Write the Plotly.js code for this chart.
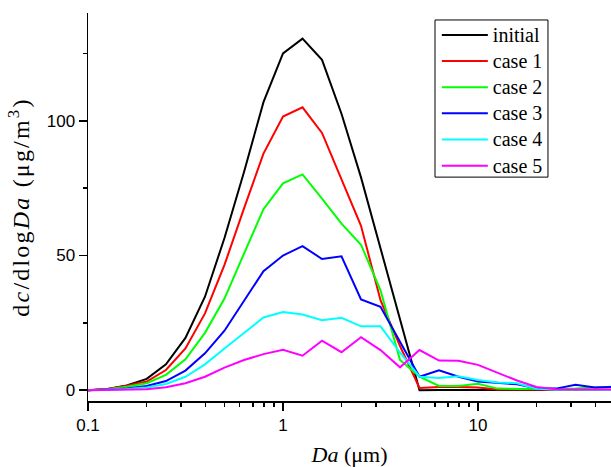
<!DOCTYPE html>
<html>
<head>
<meta charset="utf-8">
<script src="https://cdn.plot.ly/plotly-3.0.1.min.js"></script>
<style>
html,body{margin:0;padding:0;background:#fff;}
#chart{width:611px;height:467px;}
#chart .legendtext{font-size:20px !important;}
#chart .ytitle{letter-spacing:2.2px;}
</style>
</head>
<body>
<div id="chart"></div>
<script>
const diameters = [0.1, 0.126, 0.158, 0.2, 0.251, 0.316, 0.398, 0.501, 0.631, 0.794, 1, 1.259, 1.585, 1.995, 2.512, 3.162, 3.981, 5.012, 6.31, 7.943, 10, 12.59, 15.85, 19.95, 25.12, 31.62, 39.81, 50.12];
const initial = [0, 0.5, 1.8, 4.2, 9.6, 19.4, 34.7, 56.5, 81, 106.9, 125, 130.5, 122.6, 102.6, 79, 53, 26, 0, 0.1, 0.1, 0.1, 0.1, 0.1, 0.1, 0.1, 0.1, 0.1, 0.1];
const case1 = [0, 0.5, 1.7, 3.2, 7.5, 15.5, 28.5, 46.5, 67.5, 87.8, 101.6, 105, 95.5, 78.2, 61, 33.4, 16.4, 0.8, 1.2, 1.2, 1.0, 0.3, 0.2, 0.2, 0.2, 0.2, 0.2, 0.2];
const case2 = [0, 0.4, 1.3, 2.6, 5.7, 11.5, 21.3, 34, 50.7, 67.2, 76.8, 80.1, 71.1, 61.8, 54, 37.1, 11.2, 5.0, 1.6, 1.6, 2.4, 0.6, 0.5, 0.5, 0.5, 0.6, 1.0, 1.3];
const case3 = [0, 0.2, 0.6, 1.6, 3.4, 7.3, 13.7, 22.1, 33.4, 44.2, 50, 53.5, 48.7, 49.7, 33.7, 31, 18, 5.0, 7.4, 5.0, 3.2, 2.7, 2.2, 0.7, 0.6, 2.0, 1.0, 1.2];
const case4 = [0, 0.2, 0.5, 1.0, 2.3, 5.0, 9.6, 15.5, 21.3, 27, 29, 28.1, 26, 26.9, 23.7, 23.7, 14, 5.0, 4.5, 5.2, 3.8, 2.9, 2.6, 0.5, 0.2, 0.1, 0.1, 0.1];
const case5 = [0, 0.1, 0.2, 0.4, 1.1, 2.6, 5.0, 8.4, 11.2, 13.4, 15, 12.8, 18.4, 14.1, 19.7, 14.9, 8.5, 14.9, 11, 10.9, 9.4, 6.4, 3.6, 1.2, 0.4, 0.3, 0.3, 0.3];

const seriesNames = ['initial', 'case 1', 'case 2', 'case 3', 'case 4', 'case 5'];
const seriesData = [initial, case1, case2, case3, case4, case5];
const seriesColors = ['#000000', '#ff0000', '#00ff00', '#0000ff', '#00ffff', '#ff00ff'];

const xMajor = [0.1, 1, 10];
const xMajorText = ['0.1', '1', '10'];
const xMinor = [0.2,0.3,0.4,0.5,0.6,0.7,0.8,0.9,2,3,4,5,6,7,8,9,20,30,40];
const yMajor = [0, 50, 100];
const yMinor = [25, 75, 125];

const traces = seriesNames.map((n, i) => ({
  x: diameters, y: seriesData[i], name: n, type: 'scatter', mode: 'lines',
  line: {color: seriesColors[i], width: 2}
}));

const serif = 'Liberation Serif';
const sans = 'Liberation Sans';

const layout = {
  width: 611, height: 467,
  margin: {l: 88, r: 0, t: 13, b: 66},
  paper_bgcolor: '#fff', plot_bgcolor: '#fff',
  showlegend: true,
  xaxis: {
    type: 'log', range: [-1, 1.682],
    tickmode: 'array', tickvals: xMajor, ticktext: xMajorText,
    ticks: 'outside', ticklen: 8, tickwidth: 1.5, tickcolor: '#000',
    showline: true, linecolor: '#000', linewidth: 1.5, mirror: false,
    showgrid: false, zeroline: false,
    tickfont: {family: sans, size: 17, color: '#000'},
    minor: {tickmode: 'array', tickvals: xMinor, ticks: 'outside', ticklen: 4, tickwidth: 1.5, tickcolor: '#000', showgrid: false},
    title: {text: '<i>Da</i> (μm)', font: {family: serif, size: 22, color: '#000'}, standoff: 12}
  },
  yaxis: {
    range: [-4, 140],
    tickmode: 'array', tickvals: yMajor,
    ticks: 'outside', ticklen: 8, tickwidth: 1.5, tickcolor: '#000',
    showline: true, linecolor: '#000', linewidth: 1.5, mirror: false,
    showgrid: false, zeroline: false,
    tickfont: {family: sans, size: 17, color: '#000'},
    minor: {tickmode: 'array', tickvals: yMinor, ticks: 'outside', ticklen: 4, tickwidth: 1.5, tickcolor: '#000', showgrid: false},
    title: {text: 'd<i>c</i>/dlog<i>Da</i> (μg/m<sup>3</sup>)', font: {family: serif, size: 24, color: '#000'}, standoff: 10}
  },
  legend: {
    x: 0.667, y: 0.99, xanchor: 'left', yanchor: 'top',
    borderwidth: 0, bgcolor: 'rgba(0,0,0,0)',
    font: {family: serif, size: 17.8, color: '#000'},
    itemwidth: 46,
    tracegroupgap: 0
  },
  shapes: [{
    type: 'rect', xref: 'paper', yref: 'paper',
    x0: 0.6635, x1: 0.8795, y0: 0.577, y1: 0.982,
    line: {color: '#000', width: 1}, fillcolor: 'rgba(0,0,0,0)', layer: 'above'
  }]
};

Plotly.newPlot('chart', traces, layout, {displayModeBar: false, staticPlot: true});
</script>
</body>
</html>
